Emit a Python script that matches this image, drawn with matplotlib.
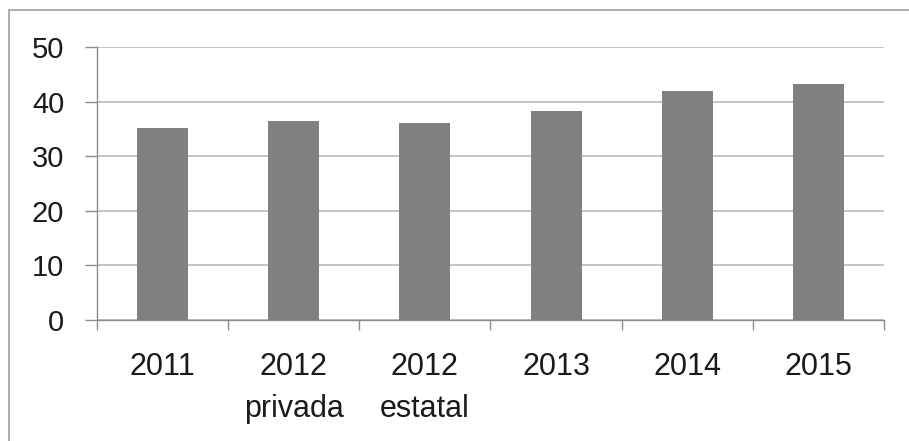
import matplotlib.pyplot as plt
from matplotlib.patches import Rectangle
import numpy as np

categories = ["2011", "2012\nprivada", "2012\nestatal", "2013", "2014", "2015"]
values = [35.1, 36.5, 36.1, 38.2, 41.9, 43.3]
y_ticks = [0, 10, 20, 30, 40, 50]

plt.rcParams["font.family"] = ["Liberation Sans", "DejaVu Sans"]

fig = plt.figure(figsize=(9.09, 4.41), dpi=100)
ax = fig.add_axes([97 / 909, 1 - 320 / 441, (884 - 97) / 909, (320 - 47) / 441])

x = np.arange(len(categories))
ax.bar(x, values, width=0.39, color="#808080", zorder=3)

ax.set_xlim(-0.5, len(categories) - 0.5)
ax.set_ylim(0, 50)
ax.set_yticks(y_ticks)
ax.grid(axis="y", color="#BFBFBF", linewidth=1.3, zorder=0)

# category labels centred under bars, tick marks at boundaries
ax.set_xticks(x)
ax.set_xticklabels(categories, fontsize=22, linespacing=1.54, va="top", color="#1a1a1a")
ax.tick_params(axis="x", which="major", length=0, pad=23)
ax.set_xticks(np.arange(-0.5, len(categories)), minor=True)
ax.tick_params(axis="x", which="minor", length=7.5, color="#8C8C8C", width=1)
ax.tick_params(axis="y", labelsize=21, labelcolor="#1a1a1a", length=8.6, color="#8C8C8C", width=1, pad=15)

for side in ["top", "right"]:
    ax.spines[side].set_visible(False)
for side in ["left", "bottom"]:
    ax.spines[side].set_color("#8C8C8C")
    ax.spines[side].set_linewidth(1)

# outer chart border
fig.patches.append(Rectangle((9 / 909, -0.1), 1.2, 1.1 - 10 / 441, transform=fig.transFigure,
                             fill=False, edgecolor="#A0A0A0", linewidth=1.2))

fig.savefig("out.png", dpi=100)
